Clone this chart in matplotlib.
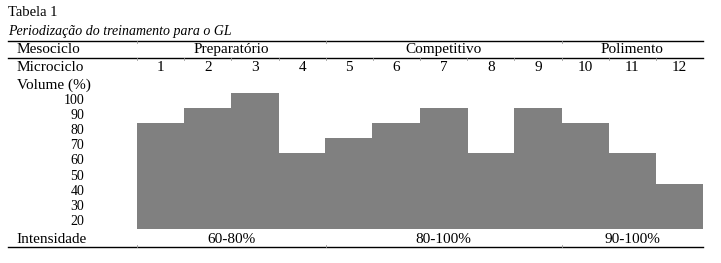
import matplotlib
matplotlib.use("Agg")
import matplotlib.pyplot as plt

# Dados da tabela
mesociclos = ["Preparatório", "Competitivo", "Polimento"]
meso_spans = [(1, 4), (5, 9), (10, 12)]
microciclos = [1, 2, 3, 4, 5, 6, 7, 8, 9, 10, 11, 12]
volume = [80, 90, 100, 60, 70, 80, 90, 60, 90, 80, 60, 40]
volume_ticks = [100, 90, 80, 70, 60, 50, 40, 30, 20]
intensidades = ["60-80%", "80-100%", "90-100%"]

plt.rcParams["font.family"] = ["Liberation Serif", "DejaVu Serif"]
FS = 11

fig = plt.figure(figsize=(7.21, 2.63), dpi=100)
W, H = 721, 263
# eixo que cobre apenas a área das barras
ax = fig.add_axes([137 / W, (H - 229) / H, (703 - 137) / W, (229 - 93) / H])
ax.set_xlim(0.5, 12.5)
ax.set_ylim(10, 100)
ax.axis("off")

# largura um pouco maior que 1 para não sobrar fresta branca entre as barras
ax.bar(microciclos, [v - 10 for v in volume], bottom=10, width=1.02,
       color="#808080", linewidth=0, antialiased=False)

x_left = -2.23
x_text = -2.05
x_right = 12.5

# Título
ax.text(x_left, 153, "Tabela 1", fontsize=FS - 0.5, va="center", ha="left", clip_on=False)
ax.text(x_left, 140.5, "Periodização do treinamento para o GL", fontsize=FS - 1,
        style="italic", va="center", ha="left", clip_on=False)

# Linhas horizontais
for y in (134.4, 123.2, -2.0):
    ax.plot([x_left, x_right], [y, y], color="black", lw=1.0, clip_on=False)

# Mesociclos
ax.text(x_text, 128.6, "Mesociclo", fontsize=FS, va="center", ha="left", clip_on=False)
for name, (a, b) in zip(mesociclos, meso_spans):
    ax.text((a + b) / 2, 128.6, name, fontsize=FS, va="center", ha="center", clip_on=False)

# Microciclos
ax.text(x_text, 116.8, "Microciclo", fontsize=FS, va="center", ha="left", clip_on=False)
for m in microciclos:
    ax.text(m, 116.8, str(m), fontsize=FS, va="center", ha="center", clip_on=False)

# Volume
ax.text(x_text, 104.8, "Volume (%)", fontsize=FS, va="center", ha="left", clip_on=False)
for v in volume_ticks:
    ax.text(-0.62, v - 5, str(v), fontsize=FS - 1, va="center", ha="right", clip_on=False)

# Intensidade
ax.text(x_text, 3.3, "Intensidade", fontsize=FS, va="center", ha="left", clip_on=False)
for name, (a, b) in zip(intensidades, meso_spans):
    ax.text((a + b) / 2, 3.3, name, fontsize=FS, va="center", ha="center", clip_on=False)

# pequenas marcas de divisão de células
for a, b in meso_spans:
    ax.plot([a - 0.5, a - 0.5], [134.4, 133.0], color="#999999", lw=0.6, clip_on=False)
    ax.plot([a - 0.5, a - 0.5], [-2.0, -0.8], color="#999999", lw=0.6, clip_on=False)
for m in microciclos:
    ax.plot([m - 0.5, m - 0.5], [123.2, 121.8], color="#999999", lw=0.6, clip_on=False)

fig.savefig("out.png", dpi=100)
